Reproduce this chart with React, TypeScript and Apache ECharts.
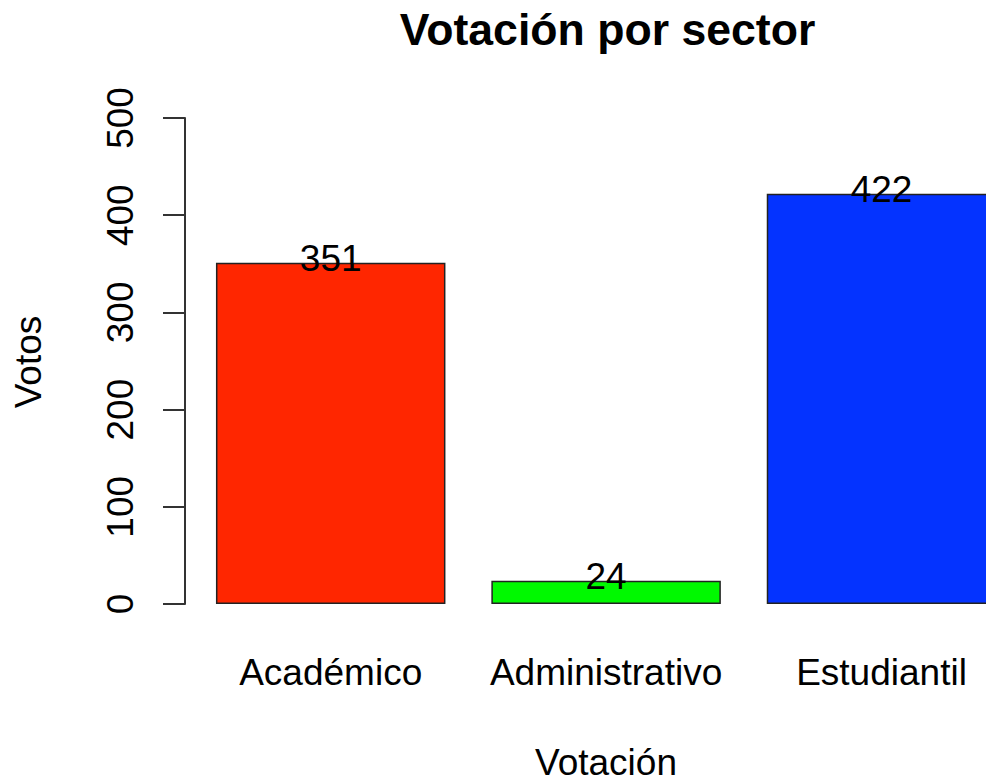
import React, { useEffect, useRef } from "react";
import * as echarts from "echarts";

const categories = ["Académico", "Administrativo", "Estudiantil"];
const votes = [351, 24, 422];
const barColors = ["#FF2600", "#00F900", "#0433FF"];
const yTicks = [0, 100, 200, 300, 400, 500];

const FONT = "'Liberation Sans', Arial, Helvetica, sans-serif";

export default function App() {
  const ref = useRef<HTMLDivElement>(null);
  useEffect(() => {
    if (!ref.current) return;
    const chart = echarts.init(ref.current, null, { renderer: "svg" });
    chart.setOption({
      animation: false,
      backgroundColor: "#ffffff",
      textStyle: { fontFamily: FONT },
      grid: {
        left: 193,
        top: 118,
        width: 826.2,
        height: 486,
        containLabel: false,
        outerBoundsMode: "none",
      },
      xAxis: {
        type: "category",
        data: categories,
        axisLine: { show: false },
        axisTick: { show: false },
        axisLabel: {
          color: "#000",
          fontSize: 37,
          fontFamily: FONT,
          margin: 50,
          interval: 0,
        },
      },
      yAxis: {
        type: "value",
        min: yTicks[0],
        max: yTicks[yTicks.length - 1],
        interval: 100,
        offset: 8,
        splitLine: { show: false },
        axisLine: { show: true, lineStyle: { color: "#333", width: 2 } },
        axisTick: { show: true, length: 22, lineStyle: { color: "#333", width: 2 } },
        axisLabel: {
          color: "#000",
          fontSize: 37,
          fontFamily: FONT,
          rotate: 90,
          margin: 46,
        },
      },
      series: [
        {
          type: "bar",
          barWidth: 229.5,
          data: votes.map((v, i) => ({
            value: v,
            itemStyle: { color: barColors[i], borderColor: "#222", borderWidth: 1.5 },
          })),
          label: {
            show: true,
            position: "top",
            distance: -14,
            color: "#000",
            fontSize: 37,
            fontFamily: FONT,
          },
        },
      ],
      graphic: [
        {
          type: "text",
          x: 607.5,
          y: 29.5,
          style: {
            text: "Votación por sector",
            font: `bold 44.6px ${FONT}`,
            fill: "#000",
            textAlign: "center",
            textVerticalAlign: "middle",
          },
        },
        {
          type: "text",
          x: 606,
          y: 762,
          style: {
            text: "Votación",
            font: `37px ${FONT}`,
            fill: "#000",
            textAlign: "center",
            textVerticalAlign: "middle",
          },
        },
        {
          type: "text",
          x: 28.5,
          y: 362,
          rotation: Math.PI / 2,
          style: {
            text: "Votos",
            font: `37px ${FONT}`,
            fill: "#000",
            textAlign: "center",
            textVerticalAlign: "middle",
          },
        },
      ],
    });
    return () => chart.dispose();
  }, []);
  return <div ref={ref} style={{ width: 986, height: 784, position: "absolute", left: 0, top: 0 }} />;
}
